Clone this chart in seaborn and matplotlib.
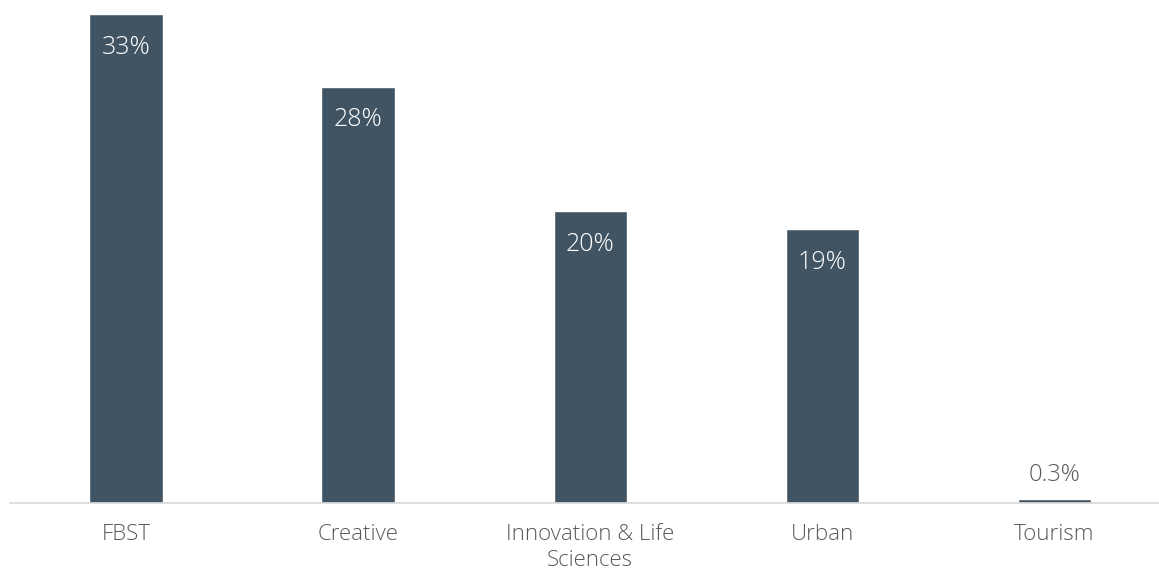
import matplotlib
matplotlib.use("Agg")
import matplotlib.pyplot as plt
import seaborn as sns
import pandas as pd

categories = ["FBST", "Creative", "Innovation & Life\nSciences", "Urban", "Tourism"]
values = [33.0, 28.1, 19.7, 18.5, 0.3]
value_labels = ["33%", "28%", "20%", "19%", "0.3%"]

sns.set_style("white")
plt.rcParams['font.family'] = ['Open Sans', 'DejaVu Sans']

df = pd.DataFrame({"cat": categories, "val": values})

fig = plt.figure(figsize=(11.59, 5.75), dpi=100)
ax = fig.add_axes([10/1159, 72/575, 1149/1159, 503/575])
sns.barplot(data=df, x="cat", y="val", color="#415464", saturation=1, width=0.315, ax=ax)

ax.set_xlim(-0.5, 4.452)
ax.set_ylim(0, 33 * 503 / 489)

for i, (v, lab) in enumerate(zip(values, value_labels)):
    if v > 5:
        ax.annotate(lab, (i, v), xytext=(0, -24), textcoords="offset points",
                    ha="center", va="center", color="white", fontsize=18,
                    fontweight="light")
    else:
        ax.annotate(lab, (i, v), xytext=(0, 17), textcoords="offset points",
                    ha="center", va="center", color="#595959", fontsize=17,
                    fontweight="light")

for s in ["top", "right", "left"]:
    ax.spines[s].set_visible(False)
ax.spines["bottom"].set_color("#d9d9d9")
ax.spines["bottom"].set_linewidth(1.2)
ax.set_yticks([])
ax.set_xlabel("")
ax.set_ylabel("")
ax.tick_params(axis="x", length=0, pad=15, labelsize=16, labelcolor="#595959")
for t in ax.get_xticklabels():
    t.set_fontweight("light")
    t.set_linespacing(1.3)

fig.savefig("out.png", dpi=100)
